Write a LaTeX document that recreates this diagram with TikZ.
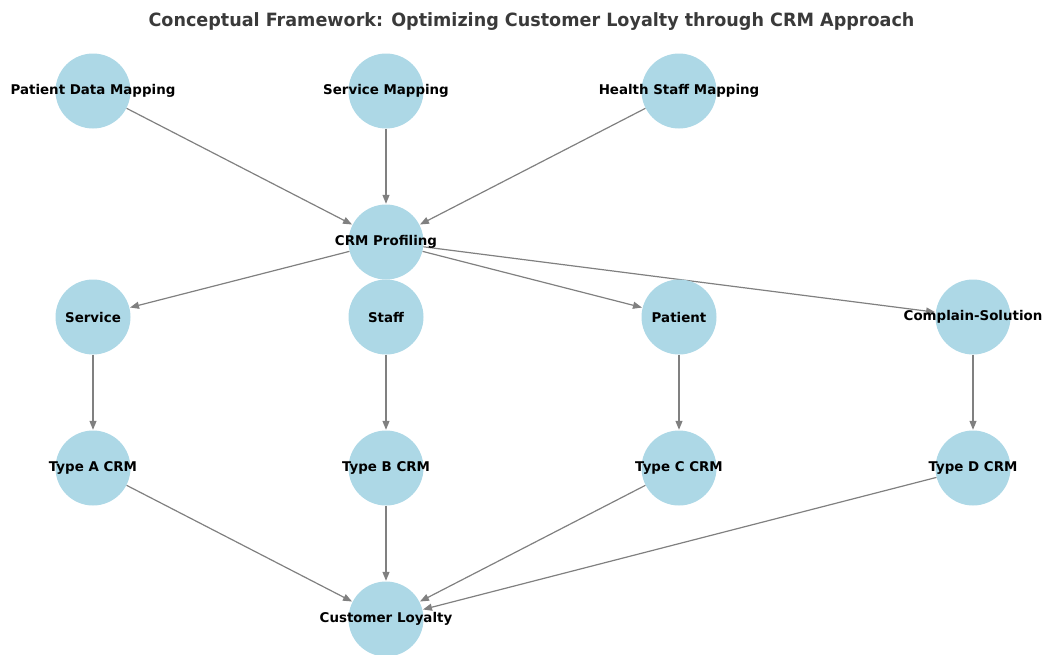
\documentclass[tikz,border=0pt]{standalone}
\usepackage{fontspec}
\setmainfont{DejaVu Sans}
\usetikzlibrary{arrows.meta}
\pgfdeclarelayer{edges}
\pgfsetlayers{edges,main}
\definecolor{nodefill}{HTML}{ADD8E6}
\definecolor{edgegray}{HTML}{808080}
\definecolor{titlegray}{HTML}{3A3A3A}
\begin{document}
\begin{tikzpicture}[x=1pt,y=-1pt,
  vertex/.style={circle,fill=nodefill,minimum size=75pt,inner sep=0pt,
    label={[font=\fontsize{13.4}{15}\selectfont\bfseries,text=black]center:#1}},
  link/.style={draw=edgegray,line width=1.2pt,-{Triangle[length=9pt,width=7pt]},shorten >=0.5pt}]
\useasboundingbox (0,0) rectangle (1042,654);
\clip (0,0) rectangle (1042,654);

\node[font=\fontsize{18.3}{21}\selectfont\bfseries,text=titlegray] (title) at (531.5,21.5)
  {\scalebox{0.96}[1]{Conceptual Framework: Optimizing Customer Loyalty through CRM Approach}};

% top row: mapping inputs
\node[vertex={Patient Data Mapping}] (pdm) at (93,91) {};
\node[vertex={Service Mapping}] (sm) at (386,91) {};
\node[vertex={Health Staff Mapping}] (hsm) at (679,91) {};
% profiling hub
\node[vertex={CRM Profiling}] (crm) at (386,242) {};
% dimensions
\node[vertex={Service}] (svc) at (93,317) {};
\node[vertex={Staff}] (stf) at (386,317) {};
\node[vertex={Patient}] (pat) at (679,317) {};
\node[vertex={Complain-Solution}] (cs) at (973,317) {};
% CRM types
\node[vertex={Type A CRM}] (ta) at (93,468) {};
\node[vertex={Type B CRM}] (tb) at (386,468) {};
\node[vertex={Type C CRM}] (tc) at (679,468) {};
\node[vertex={Type D CRM}] (td) at (973,468) {};
% outcome
\node[vertex={Customer Loyalty}] (cl) at (386,619) {};

\begin{pgfonlayer}{edges}
\path[link] (pdm) -- (crm);
\path[link] (sm) -- (crm);
\path[link] (hsm) -- (crm);
\path[link] (crm) -- (svc);
\path[link] (crm) -- (pat);
\path[link] (crm) -- (cs);
\path[link] (svc) -- (ta);
\path[link] (stf) -- (tb);
\path[link] (pat) -- (tc);
\path[link] (cs) -- (td);
\path[link] (ta) -- (cl);
\path[link] (tb) -- (cl);
\path[link] (tc) -- (cl);
\path[link] (td) -- (cl);
\end{pgfonlayer}
\end{tikzpicture}
\end{document}
